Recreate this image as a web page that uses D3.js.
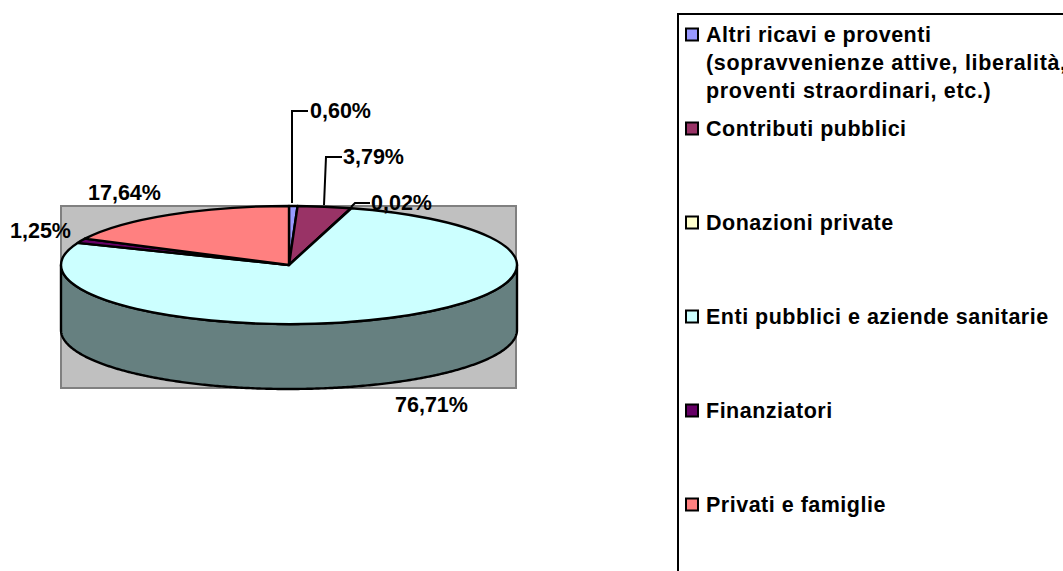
<!DOCTYPE html>
<html>
  <head>
    <title>Composizione dei ricavi</title>
    <style>
      html,
      body {
        margin: 0;
        background: #fff;
        overflow: hidden;
      }

      text {
        font-family: 'Liberation Sans', Arial, sans-serif;
        font-weight: bold;
        fill: #000;
      }
    </style>
  </head>
  <body>
    <svg id="svg" width="1063" height="571"></svg>
    <script src="https://cdn.jsdelivr.net/npm/d3@7"></script>
    <script>
      const categories = [
        'Altri ricavi e proventi',
        'Contributi pubblici',
        'Donazioni private',
        'Enti pubblici e aziende sanitarie',
        'Finanziatori',
        'Privati e famiglie',
      ];
      const values = [0.6, 3.79, 0.02, 76.71, 1.25, 17.64];
      const valueLabels = ['0,60%', '3,79%', '0,02%', '76,71%', '1,25%', '17,64%'];
      const colors = ['#9999ff', '#993366', '#ffffcc', '#ccffff', '#660066', '#ff8080'];
      const wallColors = ['#4d4d80', '#4d1a33', '#808066', '#668080', '#330033', '#804040'];
      const extraLines = [
        ['(sopravvenienze attive, liberalità,', 'proventi straordinari, etc.)'],
        [],
        [],
        [],
        [],
        [],
      ];

      const cx = 289;
      const cy = 265;
      const rx = 228;
      const ry = 59;
      const depth = 65;
      const fontSize = 21.5;

      const svg = d3.select('#svg');
      const arcData = d3.pie().sort(null)(values);
      const px = (a) => cx + rx * Math.sin(a);
      const py = (a) => cy - ry * Math.cos(a);

      // grey plot area behind the pie
      svg
        .append('rect')
        .attr('x', 61)
        .attr('y', 206)
        .attr('width', 455)
        .attr('height', 182)
        .attr('fill', '#c0c0c0')
        .attr('stroke', '#808080')
        .attr('stroke-width', 2);

      // side wall, only the front half of the ellipse shows
      const wall = d3
        .area()
        .x((a) => px(a))
        .y0((a) => py(a))
        .y1((a) => py(a) + depth);
      const front = svg.append('g');
      arcData.forEach((d, i) => {
        const a0 = Math.max(d.startAngle, Math.PI / 2);
        const a1 = Math.min(d.endAngle, (3 * Math.PI) / 2);
        if (a1 <= a0) return;
        front
          .append('path')
          .attr('d', wall(d3.range(a0, a1, 0.01).concat(a1)))
          .attr('fill', wallColors[i])
          .attr('stroke', '#000')
          .attr('stroke-width', 2.4)
          .attr('stroke-linejoin', 'round');
      });

      // top face: a circle pie squashed to an ellipse
      const arcGen = d3.arc().innerRadius(0).outerRadius(rx);
      svg
        .append('g')
        .attr('transform', `translate(${cx},${cy}) scale(1,${ry / rx})`)
        .selectAll('path')
        .data(arcData)
        .enter()
        .append('path')
        .attr('d', arcGen)
        .attr('fill', (d, i) => colors[i])
        .attr('stroke', '#000')
        .attr('stroke-width', 2.4)
        .attr('stroke-linejoin', 'round')
        .attr('vector-effect', 'non-scaling-stroke');

      // label placement, same order as values
      const labelPos = [
        { x: 310, y: 118, leader: [[292, 203], [292, 111], [308, 111]] },
        { x: 343, y: 164, leader: [[324, 205], [326, 157], [342, 157]] },
        { x: 371, y: 210, leader: [[351, 207], [355, 203], [370, 203]] },
        { x: 395, y: 412 },
        { x: 10, y: 238 },
        { x: 88, y: 200 },
      ];

      const lineGen = d3.line();
      svg
        .append('g')
        .selectAll('path')
        .data(labelPos.filter((d) => d.leader))
        .enter()
        .append('path')
        .attr('d', (d) => lineGen(d.leader))
        .attr('fill', 'none')
        .attr('stroke', '#000')
        .attr('stroke-width', 2);

      svg
        .append('g')
        .selectAll('text')
        .data(valueLabels)
        .enter()
        .append('text')
        .text((d) => d)
        .attr('x', (d, i) => labelPos[i].x)
        .attr('y', (d, i) => labelPos[i].y)
        .attr('font-size', fontSize);

      // legend box runs off the page on the right and at the bottom
      svg
        .append('rect')
        .attr('x', 678)
        .attr('y', 14)
        .attr('width', 500)
        .attr('height', 700)
        .attr('fill', '#fff')
        .attr('stroke', '#000')
        .attr('stroke-width', 2);

      const legendY = d3
        .scalePoint()
        .domain(categories.slice(1))
        .range([136, 512]);
      const baseline = (i) => (i === 0 ? 42 : legendY(categories[i]));

      const legend = svg
        .append('g')
        .selectAll('g')
        .data(categories)
        .enter()
        .append('g')
        .attr('transform', (d, i) => `translate(0,${baseline(i)})`);

      legend
        .append('rect')
        .attr('x', 686)
        .attr('y', -13.5)
        .attr('width', 12)
        .attr('height', 12)
        .attr('fill', (d, i) => colors[i])
        .attr('stroke', '#000')
        .attr('stroke-width', 2);

      legend
        .append('text')
        .text((d) => d)
        .attr('x', 706)
        .attr('font-size', fontSize)
        .attr('letter-spacing', 0.5);

      legend.each(function (d, i) {
        extraLines[i].forEach((line, k) => {
          d3.select(this)
            .append('text')
            .text(line)
            .attr('x', 706)
            .attr('y', 28 * (k + 1))
            .attr('font-size', fontSize)
            .attr('letter-spacing', 0.68);
        });
      });
    </script>
  </body>
</html>
